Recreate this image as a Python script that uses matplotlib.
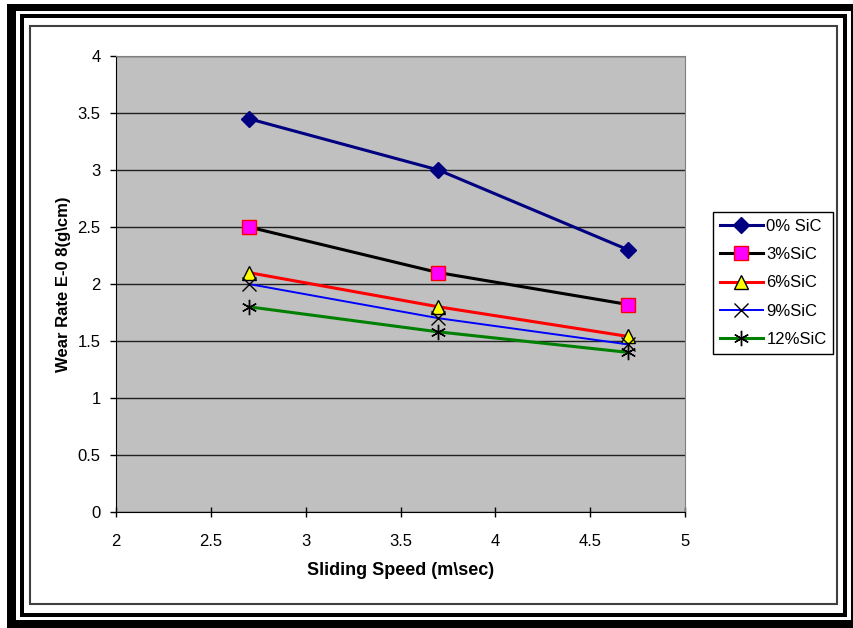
import matplotlib
matplotlib.use("Agg")
import matplotlib.pyplot as plt
from matplotlib.patches import Rectangle

plt.rcParams['font.family'] = ['Liberation Sans', 'DejaVu Sans']

speeds = [2.7, 3.7, 4.7]
series_names = ["0% SiC", "3%SiC", "6%SiC", "9%SiC", "12%SiC"]
wear_0 = [3.45, 3.00, 2.30]
wear_3 = [2.50, 2.10, 1.82]
wear_6 = [2.10, 1.80, 1.54]
wear_9 = [2.00, 1.70, 1.47]
wear_12 = [1.80, 1.58, 1.40]
x_ticks = [2, 2.5, 3, 3.5, 4, 4.5, 5]
y_ticks = [0, 0.5, 1, 1.5, 2, 2.5, 3, 3.5, 4]

W, H = 854, 628
fig = plt.figure(figsize=(W / 100, H / 100), dpi=100)

def fx(px):
    return px / W

def fy(py):
    return 1 - py / H

def rect(x0, y0, x1, y1, face='black', edge='none', lw=0):
    fig.patches.append(Rectangle((fx(x0), fy(y1)), (x1 - x0) / W, (y1 - y0) / H,
                                 transform=fig.transFigure, facecolor=face,
                                 edgecolor=edge, linewidth=lw, zorder=-5))

def frame(x0, y0, x1, y1, t):
    rect(x0, y0, x1, y0 + t)
    rect(x0, y1 - t, x1, y1)
    rect(x0, y0, x0 + t, y1)
    rect(x1 - t, y0, x1, y1)

# outer thick frame
rect(7, 4, 854, 11)
rect(7, 4, 16, 628)
rect(7, 620, 854, 628)
rect(851, 4, 854, 628)
# middle frame
frame(20, 14, 847, 617, 4)
# inner chart border
rect(30, 26, 837, 604, face='white', edge='#404040', lw=1.5)

ax = fig.add_axes([fx(116), fy(512), fx(685 - 116), (512 - 56) / H])
ax.set_facecolor('#C0C0C0')

ax.plot(speeds, wear_0, color='#000080', lw=2.2, marker='D', ms=8.5,
        mfc='#000080', mec='#000080', label=series_names[0], zorder=5)
ax.plot(speeds, wear_3, color='black', lw=2.2, marker='s', ms=9.5,
        mfc='#FF00FF', mec='#FF0000', mew=1, label=series_names[1], zorder=5)
ax.plot(speeds, wear_6, color='#FF0000', lw=2.2, marker='^', ms=10,
        mfc='#FFFF00', mec='black', mew=1, label=series_names[2], zorder=5)
ax.plot(speeds, wear_9, color='#0000FF', lw=1.4, marker='x', ms=10,
        mec='black', mew=1, label=series_names[3], zorder=5)
ax.plot(speeds, wear_12, color='#008000', lw=2.2, marker=(6, 2, 0), ms=11,
        mec='black', mew=1, label=series_names[4], zorder=5)

ax.set_xlim(2, 5)
ax.set_ylim(0, 4)
ax.set_xticks(x_ticks)
ax.set_yticks(y_ticks)
ax.set_xticklabels([f"{t:g}" for t in x_ticks])
ax.set_yticklabels([f"{t:g}" for t in y_ticks])
ax.yaxis.grid(True, color='#202020', lw=1)
ax.set_axisbelow(True)
ax.tick_params(axis='both', labelsize=12, direction='out', length=4, width=1, color='black')
ax.tick_params(axis='x', direction='inout', length=7, pad=12)
ax.tick_params(axis='y', pad=7)
for s in ['top', 'right']:
    ax.spines[s].set_color('#808080')
for s in ['left', 'bottom']:
    ax.spines[s].set_color('black')

ax.set_xlabel("Sliding Speed (m\\sec)", fontsize=13, fontweight='bold', labelpad=10)
ax.set_ylabel("Wear Rate E-0 8(g\\cm)", fontsize=12, fontweight='bold', labelpad=5)

leg = fig.legend(loc='upper left', bbox_to_anchor=(fx(713), fy(212)),
                 bbox_transform=fig.transFigure, fontsize=12, frameon=True,
                 fancybox=False, edgecolor='black', framealpha=1,
                 handlelength=2.6, handletextpad=0.2, borderpad=0.4,
                 labelspacing=0.8, borderaxespad=0)
leg.get_frame().set_linewidth(1)

fig.savefig("out.png", dpi=100)
